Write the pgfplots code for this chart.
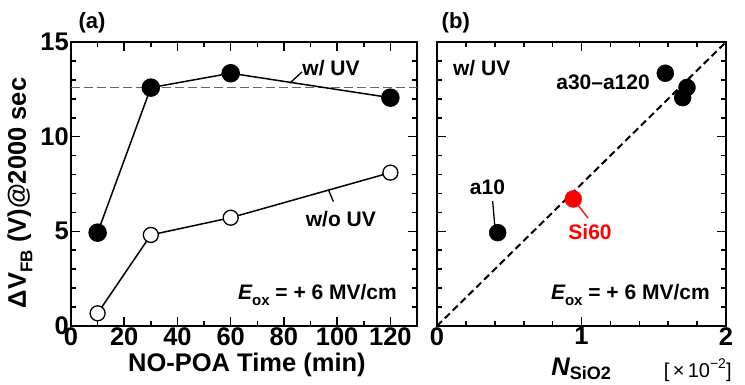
\documentclass[border=0pt]{standalone}
\usepackage{fontspec}
\setmainfont{Liberation Sans}
\usepackage{pgfplots}
\pgfplotsset{compat=1.18}
\newcommand{\ann}{\fontsize{21}{21}\selectfont\bfseries}
\newcommand{\lab}{\fontsize{25.5}{25.5}\selectfont\bfseries}
\begin{document}
\begin{tikzpicture}
\path[use as bounding box] (-71pt,-59pt) rectangle (674pt,326pt);
\pgfplotsset{
 every axis/.append style={
  scale only axis, height=284pt,
  axis line style={line width=2pt},
  every tick/.style={line width=1.6pt, black},
  tick align=inside,
  major tick length=9pt, minor tick length=5pt,
  /pgf/number format/assume math mode=true,
  tick label style={font=\lab},
  xticklabel style={inner sep=1pt},
  yticklabel style={inner xsep=2pt},
  ymin=0, ymax=15, ytick={0,5,10,15}, minor y tick num=4,
  clip=false,
 },
}
% ---------------- (a)
\begin{axis}[width=346pt, xmin=0, xmax=130, xtick={0,20,...,120}, minor x tick num=1]
\addplot[gray!80!black, line width=1pt, dash pattern=on 9pt off 4pt] coordinates {(0,12.59) (130,12.59)};
\addplot[black, line width=1.5pt, mark=*, mark size=8.5pt, mark options={fill=black}]
 coordinates {(10,4.93) (30,12.59) (60,13.35) (120,12.06)};
\addplot[black, line width=1.5pt, mark=*, mark size=7.5pt, mark options={fill=white, line width=1.3pt}]
 coordinates {(10,0.67) (30,4.81) (60,5.72) (120,8.1)};
\draw[line width=1.3pt] (axis cs:82.3,12.84) -- (axis cs:86.8,13.42);
\draw[line width=1.3pt] (axis cs:96.7,7.2) -- (axis cs:98.6,6.57);
\node[font=\ann] at (axis cs:97.7,13.63) {w/ UV};
\node[font=\ann] at (axis cs:101.4,5.65) {w/o UV};
\node[font=\ann, anchor=east, inner sep=0pt] at (axis cs:122.5,1.64) {{\itshape E}\raisebox{-0.28em}{\fontsize{15}{15}\selectfont ox} = + 6 MV/cm};
\node[font=\fontsize{22}{22}\selectfont\bfseries] at (axis cs:7.9,16.0) {(a)};
\node[font=\lab] at (axis cs:66.1,-2.06) {NO-POA Time (min)};
\node[font=\lab, rotate=90] at (axis cs:-19.2,7.03) {ΔV\raisebox{-0.25em}{\fontsize{17}{17}\selectfont FB} (V)@2000 sec};
\end{axis}
% ---------------- (b)
\begin{axis}[at={(366pt,0pt)}, width=289pt, xmin=0, xmax=2, xtick={0,1,2}, minor x tick num=4, yticklabels={}]
\addplot[black, line width=2pt, dash pattern=on 7pt off 4pt] coordinates {(0,0) (2,15)};
\addplot[black, only marks, mark=*, mark size=8.5pt]
 coordinates {(0.42,4.93) (1.58,13.35) (1.73,12.6) (1.70,12.06)};
\addplot[red, only marks, mark=*, mark size=8.5pt]
 coordinates {(0.943,6.71)};
\draw[line width=1.3pt] (axis cs:0.385,6.6) -- (axis cs:0.40,5.3);
\draw[red, line width=1.3pt] (axis cs:0.943,6.71) -- (axis cs:1.045,5.70);
\node[font=\ann, anchor=west, inner sep=0pt] at (axis cs:0.11,13.63) {w/ UV};
\node[font=\ann, anchor=east, inner sep=0pt] at (axis cs:1.474,12.89) {a30–a120};
\node[font=\ann] at (axis cs:0.349,7.34) {a10};
\node[font=\ann, text=red] at (axis cs:1.059,4.97) {Si60};
\node[font=\ann, anchor=east, inner sep=0pt] at (axis cs:1.889,1.64) {{\itshape E}\raisebox{-0.28em}{\fontsize{15}{15}\selectfont ox} = + 6 MV/cm};
\node[font=\fontsize{22}{22}\selectfont\bfseries] at (axis cs:0.13,16.0) {(b)};
\node[font=\lab, anchor=base, inner sep=0pt] at (axis cs:0.997,-2.62) {{\itshape N}\raisebox{-0.17em}{\fontsize{18}{18}\selectfont SiO2}};
\node[font=\fontsize{20}{20}\selectfont, anchor=east, inner sep=0pt] at (axis cs:2.04,-2.32) {[\,×\,10\raisebox{0.45em}{\fontsize{14}{14}\selectfont −2}]};
\end{axis}
\end{tikzpicture}
\end{document}
